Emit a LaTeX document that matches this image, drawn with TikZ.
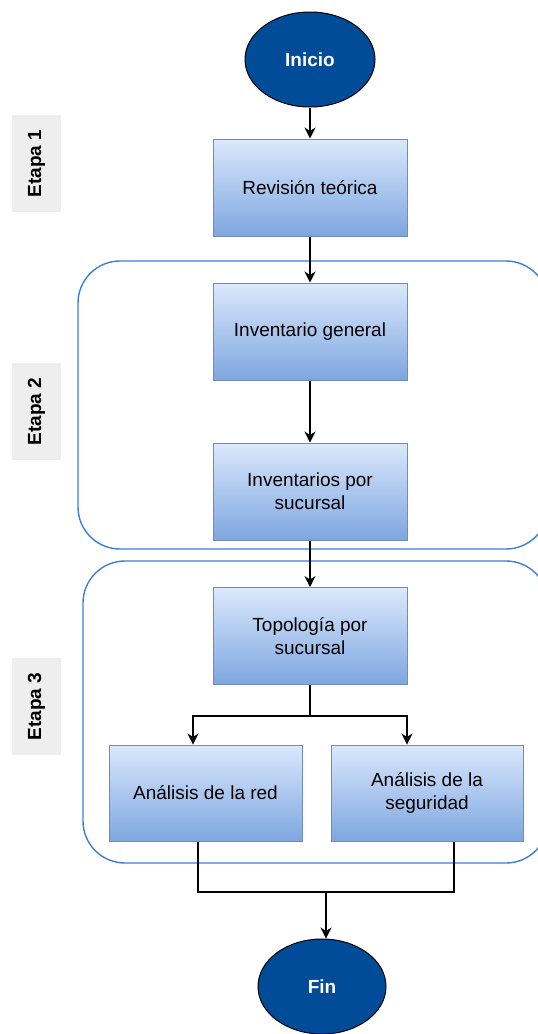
\documentclass[tikz,border=0pt]{standalone}
\usepackage{fontspec}
\setmainfont{Liberation Sans}
\usetikzlibrary{arrows.meta,shapes.geometric}
\definecolor{boxtop}{HTML}{DAE8FC}
\definecolor{boxbot}{HTML}{7EA6E0}
\definecolor{boxline}{HTML}{6C8EBF}
\definecolor{termfill}{HTML}{004C99}
\definecolor{groupline}{HTML}{3D7EDB}
\definecolor{tagfill}{HTML}{EEEEEE}
\begin{document}
\begin{tikzpicture}[x=1pt,y=-1pt,
  stepbox/.style={rectangle, draw=boxline, line width=1pt, top color=boxtop, bottom color=boxbot,
    minimum width=194pt, minimum height=97pt, inner sep=0pt, align=center,
    font=\fontsize{19}{23}\selectfont},
  term/.style={ellipse, draw=black, line width=1pt, fill=termfill, minimum width=130pt,
    minimum height=95pt, inner sep=0pt, text=white, font=\fontsize{19}{22}\selectfont\bfseries},
  stage/.style={rectangle, fill=tagfill, minimum width=97pt, minimum height=49pt, inner sep=0pt,
    rotate=90, font=\fontsize{19}{22}\selectfont\bfseries},
  group/.style={draw=groupline, line width=1.4pt, rounded corners=42pt},
  link/.style={draw=black, line width=1.3pt},
  flow/.style={link, -{Stealth[length=11pt,width=11pt,inset=3.5pt]}}
]
\path[use as bounding box] (0,0) rectangle (538,1034);

% stage frames
\draw[group] (78,261) rectangle (548,549);
\draw[group] (83,561) rectangle (548,863);

% stage labels
\node[stage] (e1) at (36.5,163.5) {Etapa 1};
\node[stage] (e2) at (36.5,411.5) {Etapa 2};
\node[stage] (e3) at (36.5,706.5) {Etapa 3};

% start / end
\node[term] (inicio) at (310,59.5) {Inicio};
\node[term, minimum width=128pt] (fin) at (322,986.5) {Fin};

% process steps
\node[stepbox] (rev) at (310,187.5) {Revisión teórica};
\node[stepbox] (invg) at (310,331.5) {Inventario general};
\node[stepbox] (invs) at (310,491.5) {Inventarios por\\sucursal};
\node[stepbox] (topo) at (310,636) {Topología por\\sucursal};
\node[stepbox, minimum width=193pt, minimum height=96pt] (red) at (205.5,793) {Análisis de la red};
\node[stepbox, minimum width=192pt, minimum height=96pt] (seg) at (427,793) {Análisis de la\\seguridad};

% main flow
\draw[flow] (inicio) -- (rev);
\draw[flow] (rev) -- (invg);
\draw[flow] (invg) -- (invs);
\draw[flow] (invs) -- (topo);

% split after topology
\coordinate (split) at (310,716);
\coordinate (splitL) at (193,716);
\coordinate (splitR) at (407,716);
\draw[link] (topo) -- (split);
\draw[flow] (split) -- (splitL) -- (splitL |- red.north);
\draw[flow] (split) -- (splitR) -- (splitR |- seg.north);

% merge towards the end
\coordinate (mergeL) at (198,892);
\coordinate (mergeR) at (454,892);
\coordinate (mergeC) at (326,892);
\draw[link] (red.south -| mergeL) -- (mergeL) -- (mergeR) -- (seg.south -| mergeR);
\draw[flow] (mergeC) -- (mergeC |- fin.north);
\end{tikzpicture}
\end{document}
